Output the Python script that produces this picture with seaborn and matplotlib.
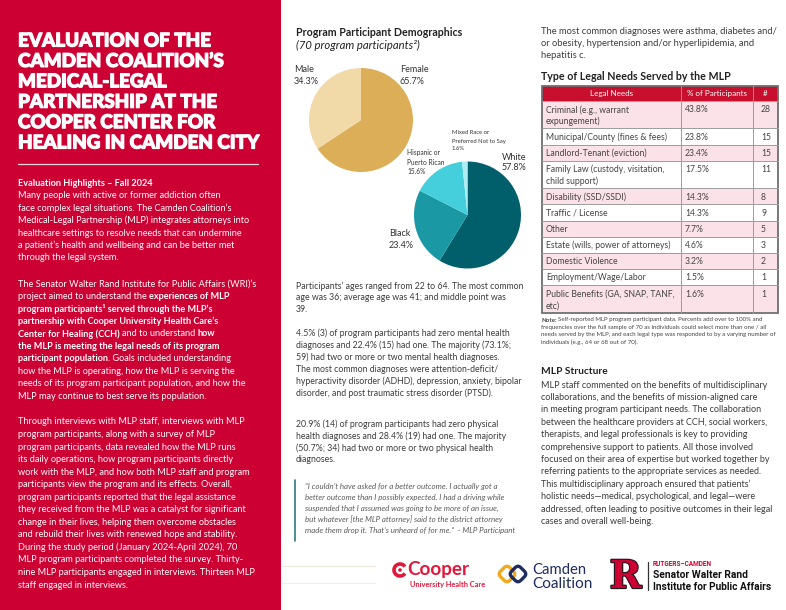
import matplotlib
matplotlib.use("Agg")
import matplotlib.pyplot as plt
import matplotlib.patheffects as pe
from matplotlib import transforms
from matplotlib.patches import Rectangle, Arc, Circle, FancyBboxPatch
import seaborn as sns

sns.set_theme(style="white")
plt.rcParams["font.family"] = ["Lato", "DejaVu Sans"]

# ---- data ----
gender_labels = ["Female", "Male"]
gender_pct = [65.7, 34.3]
race_labels = ["White", "Black", "Hispanic or\nPuerto Rican", "Mixed Race or\nPreferred Not to Say"]
race_pct = [57.8, 23.4, 15.6, 1.6]

legal_needs = ["Criminal (e.g., warrant\nexpungement)", "Municipal/County (fines & fees)",
               "Landlord-Tenant (eviction)", "Family Law (custody, visitation,\nchild support)",
               "Disability (SSD/SSDI)", "Traffic / License", "Other",
               "Estate (wills, power of attorneys)", "Domestic Violence",
               "Employment/Wage/Labor", "Public Benefits (GA, SNAP, TANF,\netc)"]
need_pct = [43.8, 23.8, 23.4, 17.5, 14.3, 14.3, 7.7, 4.6, 3.2, 1.5, 1.6]
need_n = [28, 15, 15, 11, 8, 9, 5, 3, 2, 1, 1]
table_header = ["Legal Needs", "% of Participants", "#"]

title_lines = ["EVALUATION OF THE", "CAMDEN COALITION\u2019S", "MEDICAL-LEGAL",
               "PARTNERSHIP AT THE", "COOPER CENTER FOR", "HEALING IN CAMDEN CITY"]

highlights = ["Many people with active or former addiction often",
              "face complex legal situations. The Camden Coalition\u2019s",
              "Medical-Legal Partnership (MLP) integrates attorneys into",
              "healthcare settings to resolve needs that can undermine",
              "a patient\u2019s health and wellbeing and can be better met",
              "through the legal system."]

wri_par = [
    [("The Senator Walter Rand Institute for Public Affairs (WRI)\u2019s", "normal")],
    [("project aimed to understand the ", "normal"), ("experiences of MLP", "bold")],
    [("program participants\u00b9 served through the MLP\u2019s", "bold")],
    [("partnership with Cooper University Health Care\u2019s", "bold")],
    [("Center for Healing (CCH)", "bold"), (" and to understand ", "normal"), ("how", "bold")],
    [("the MLP is meeting the legal needs of its program", "bold")],
    [("participant population", "bold"), (". Goals included understanding", "normal")],
    [("how the MLP is operating, how the MLP is serving the", "normal")],
    [("needs of its program participant population, and how the", "normal")],
    [("MLP may continue to best serve its population.", "normal")],
]

through_par = ["Through interviews with MLP staff, interviews with MLP",
               "program participants, along with a survey of MLP",
               "program participants, data revealed how the MLP runs",
               "its daily operations, how program participants directly",
               "work with the MLP, and how both MLP staff and program",
               "participants view the program and its effects. Overall,",
               "program participants reported that the legal assistance",
               "they received from the MLP was a catalyst for significant",
               "change in their lives, helping them overcome obstacles",
               "and rebuild their lives with renewed hope and stability.",
               "During the study period (January 2024-April 2024), 70",
               "MLP program participants completed the survey. Thirty-",
               "nine MLP participants engaged in interviews. Thirteen MLP",
               "staff engaged in interviews."]

ages_par = ["Participants\u2019 ages ranged from 22 to 64. The most common",
            "age was 36; average age was 41; and middle point was",
            "39."]
mental_par = ["4.5% (3) of program participants had zero mental health",
              "diagnoses and 22.4% (15) had one. The majority (73.1%;",
              "59) had two or more or two mental health diagnoses.",
              "The most common diagnoses were attention-deficit/",
              "hyperactivity disorder (ADHD), depression, anxiety, bipolar",
              "disorder, and post traumatic stress disorder (PTSD)."]
physical_par = ["20.9% (14) of program participants had zero physical",
                "health diagnoses and 28.4% (19) had one. The majority",
                "(50.7%; 34) had two or more or two physical health",
                "diagnoses."]
quote_lines = ["\u201cI couldn\u2019t have asked for a better outcome. I actually got a",
               "better outcome than I possibly expected. I had a driving while",
               "suspended that I assumed was going to be more of an issue,",
               "but whatever [the MLP attorney] said to the district attorney",
               "made them drop it. That\u2019s unheard of for me.\u201d  - MLP Participant"]

common_par = ["The most common diagnoses were asthma, diabetes and/",
              "or obesity, hypertension and/or hyperlipidemia, and",
              "hepatitis c."]
note_lines = [[("Note:", "bold"), (" Self-reported MLP program participant data. Percents add over to 100% and", "normal")],
              [("frequencies over the full sample of 70 as individuals could select more than one / all", "normal")],
              [("needs served by the MLP, and each legal type was responded to by a varying number of", "normal")],
              [("individuals (e.g., 64 or 68 out of 70).", "normal")]]
structure_par = ["MLP staff commented on the benefits of multidisciplinary",
                 "collaborations, and the benefits of mission-aligned care",
                 "in meeting program participant needs. The collaboration",
                 "between the healthcare providers at CCH, social workers,",
                 "therapists, and legal professionals is key to providing",
                 "comprehensive support to patients. All those involved",
                 "focused on their area of expertise but worked together by",
                 "referring patients to the appropriate services as needed.",
                 "This multidisciplinary approach ensured that patients\u2019",
                 "holistic needs\u2014medical, psychological, and legal\u2014were",
                 "addressed, often leading to positive outcomes in their legal",
                 "cases and overall well-being."]

# ---- colours ----
RED = "#CC0033"
GOLD = ["#DCAE58", "#F1D9A8"]
TEAL = ["#005F6A", "#1A99A4", "#45CFDC", "#AEEBF2"]
BODY = "#3c3c3c"
PINK = "#FBE2E8"
NAVY = "#1E2D5E"

W, H = 786, 610
fig = plt.figure(figsize=(W / 100, H / 100), dpi=100)
ax = fig.add_axes([0, 0, 1, 1])
ax.set_xlim(0, W)
ax.set_ylim(H, 0)
ax.axis("off")
renderer = fig.canvas.get_renderer()


def width_of(s, size, **kw):
    t = ax.text(0, 0, s, fontsize=size, **kw)
    w = t.get_window_extent(renderer).width
    t.remove()
    return w


def fit(s, target, **kw):
    return 10 * target / width_of(s, 10, **kw)


def block(x, y0, step, rows, size, color, **kw):
    for i, row in enumerate(rows):
        ax.text(x, y0 + i * step, row, fontsize=size, color=color, va="center", ha="left", **kw)


def run_block(x0, y0, step, rows, size, color, **kw):
    space = width_of("a a", size, **kw) - width_of("aa", size, **kw)
    for i, parts in enumerate(rows):
        x = x0
        for s, weight in parts:
            core = s.strip(" ")
            x += (len(s) - len(s.lstrip(" "))) * space
            if core:
                t = ax.text(x, y0 + i * step, core, fontsize=size, fontweight=weight,
                            color=color, va="center", ha="left", **kw)
                x += t.get_window_extent(renderer).width
            x += (len(s) - len(s.rstrip(" "))) * space


# ---- left red panel ----
ax.add_patch(Rectangle((0, 0), 281, H, color=RED, lw=0))
tsize = fit(title_lines[-1], 240, fontweight="black")
block(18, 41, 20.4, title_lines, tsize, "white", fontweight="black",
      path_effects=[pe.withStroke(linewidth=0.9, foreground="white")])
ax.plot([18, 258], [164, 164], color="white", lw=0.9, alpha=0.85)

lsize = fit(highlights[2], 230)
ax.text(18, 183, "Evaluation Highlights \u2013 Fall 2024", fontsize=lsize, fontweight="bold",
        color="white", va="center")
block(18, 195.5, 12.5, highlights, lsize, "white")
run_block(18, 284, 12.45, wri_par, lsize, "white")
block(18, 422, 12.54, through_par, lsize, "white")

# ---- middle column ----
ax.text(296, 32, "Program Participant Demographics", color="#222222", va="center",
        fontsize=fit("Program Participant Demographics", 166, fontweight="bold"), fontweight="bold")
ax.text(296, 45, "(70 program participants\u00b2)", color="#222222", va="center", style="italic",
        fontsize=fit("(70 program participants\u00b2)", 123, style="italic"))


def pie_axes(cx, cy, r):
    pax = fig.add_axes([(cx - r) / W, (H - cy - r) / H, 2 * r / W, 2 * r / H])
    return pax


gax = pie_axes(361, 120, 52)
gax.pie(gender_pct, colors=GOLD, startangle=90, counterclock=False, wedgeprops=dict(linewidth=0))
gax.set_xlim(-1, 1)
gax.set_ylim(-1, 1)

rax = pie_axes(467.5, 215, 53.5)
rax.pie(race_pct, colors=TEAL, startangle=90, counterclock=False, wedgeprops=dict(linewidth=0))
rax.set_xlim(-1, 1)
rax.set_ylim(-1, 1)

psize = fit("34.3%", 25)
ssize = fit("Preferred Not to Say", 54)
label_pos = {"Female": (400, 70), "Male": (294, 70)}
for lab, val in zip(gender_labels, gender_pct):
    x, y = label_pos[lab]
    block(x, y, 11, [lab, f"{val}%"], psize, "#333333")
race_pos = [(502, 157, psize, 10.5), (389, 234, psize, 11), (407, 153, ssize * 1.12, 9.2), (452, 133, ssize, 8)]
for lab, val, (x, y, sz, st) in zip(race_labels, race_pct, race_pos):
    block(x, y, st, lab.split("\n") + [f"{val}%"], sz, "#333333")

msize = fit(ages_par[0], 229)
block(296, 286, 11.9, ages_par, msize, BODY)
block(296, 333.5, 11.9, mental_par, msize, BODY)
block(296, 424, 11.9, physical_par, msize, BODY)

ax.plot([295, 295], [480, 541], color="#2E7C80", lw=1.2)
block(305, 486, 11.1, quote_lines, fit(quote_lines[-1], 212, style="italic"), "#5a5a5a", style="italic")

# logo strip
ax.plot([282, 375], [566, 566], color="#EFE9DD", lw=0.8)
ax.plot([282, 375], [583, 583], color="#EEF0EE", lw=0.8)
COOPER = "#E2173A"
ax.add_patch(Arc((400, 570), 12, 12, theta1=35, theta2=325, color=COOPER, lw=2.6))
ax.add_patch(Circle((400, 570), 1.8, color=COOPER, lw=0))
ax.text(407, 569, "Cooper", color=COOPER, va="center", fontweight="bold",
        fontsize=fit("Cooper", 62, fontweight="bold"))
ax.text(410, 584, "University Health Care", color=COOPER, va="center", fontweight="bold",
        fontsize=fit("University Health Care", 75, fontweight="bold"))

for cx, col in [(507, "#F0A81C"), (518, NAVY)]:
    box = FancyBboxPatch((cx - 6.5, 567.5), 13, 13, boxstyle="round,pad=0,rounding_size=4",
                         fill=False, ec=col, lw=2.4)
    box.set_transform(transforms.Affine2D().rotate_deg_around(cx, 574, 45) + ax.transData)
    ax.add_patch(box)
ax.text(532, 570, "Camden", color=NAVY, va="center", fontsize=fit("Camden", 54))
ax.text(532, 583.5, "Coalition", color=NAVY, va="center", fontsize=fit("Coalition", 61))

ax.text(625.5, 577, "R", color=RED, ha="center", va="center", fontweight="bold", family="DejaVu Serif",
        fontsize=fit("R", 32, fontweight="bold", family="DejaVu Serif"),
        path_effects=[pe.withStroke(linewidth=1.6, foreground="#1a1a1a")])
ax.plot([648, 648], [562, 590], color="#333333", lw=0.9)
narrow = ["Liberation Sans Narrow", "Roboto", "DejaVu Sans"]
ax.text(653, 564.5, "RUTGERS\u2013CAMDEN", color=RED, va="center", fontweight="bold", family=narrow,
        fontsize=fit("RUTGERS\u2013CAMDEN", 60, fontweight="bold", family=narrow))
ax.text(653, 575, "Senator Walter Rand", color="#111111", va="center", fontweight="bold", family=narrow,
        fontsize=fit("Senator Walter Rand", 95, fontweight="bold", family=narrow))
ax.text(653, 587, "Institute for Public Affairs", color="#111111", va="center", fontweight="bold",
        family=narrow, fontsize=fit("Institute for Public Affairs", 119, fontweight="bold", family=narrow))

# ---- right column ----
block(541, 32, 12, common_par, fit(common_par[0], 236), BODY)
ax.text(541, 77, "Type of Legal Needs Served by the MLP", color="#222222", va="center", fontweight="bold",
        fontsize=fit("Type of Legal Needs Served by the MLP", 189, fontweight="bold"))

# table
cols = [542, 681, 753, 778]
text_x = [546, 685, 761]
top = 86
ax.add_patch(Rectangle((cols[0], top), cols[-1] - cols[0], 15, color="#C8102E", lw=0))
hsize = fit(table_header[1], 59)
for j, hdr in enumerate(table_header):
    ax.text((cols[j] + cols[j + 1]) / 2, top + 7.5, hdr, color="white", ha="center", va="center", fontsize=hsize)
csize = fit(legal_needs[1], 121)
y = top + 15
for i, (need, p, n) in enumerate(zip(legal_needs, need_pct, need_n)):
    nl = need.count("\n") + 1
    h = 16.2 + 11.2 * (nl - 1)
    ax.add_patch(Rectangle((cols[0], y), cols[-1] - cols[0], h, color=PINK if i % 2 == 0 else "white", lw=0))
    ax.plot([cols[0], cols[-1]], [y, y], color="#9c9c9c", lw=0.7)
    block(text_x[0], y + 8.8, 11.4, need.split("\n"), csize, "#444444")
    ax.text(text_x[1], y + 8.8, f"{p}%", color="#444444", va="center", fontsize=csize)
    ax.text(text_x[2], y + 8.8, f"{n}", color="#444444", va="center", fontsize=csize)
    y += h
for x in cols[1:-1]:
    ax.plot([x, x], [top, y], color="#9c9c9c", lw=0.7)
ax.add_patch(Rectangle((cols[0], top), cols[-1] - cols[0], y - top, fill=False, ec="#707070", lw=1.3))

run_block(541, 320, 7.3, note_lines, fit(note_lines[2][0][0], 236), "#444444")

ax.text(541, 372, "MLP Structure", color="#222222", va="center", fontweight="bold",
        fontsize=fit("MLP Structure", 66, fontweight="bold"))
block(541, 385, 12.4, structure_par, fit(structure_par[10], 232), BODY)

fig.savefig("out.png", dpi=100)
